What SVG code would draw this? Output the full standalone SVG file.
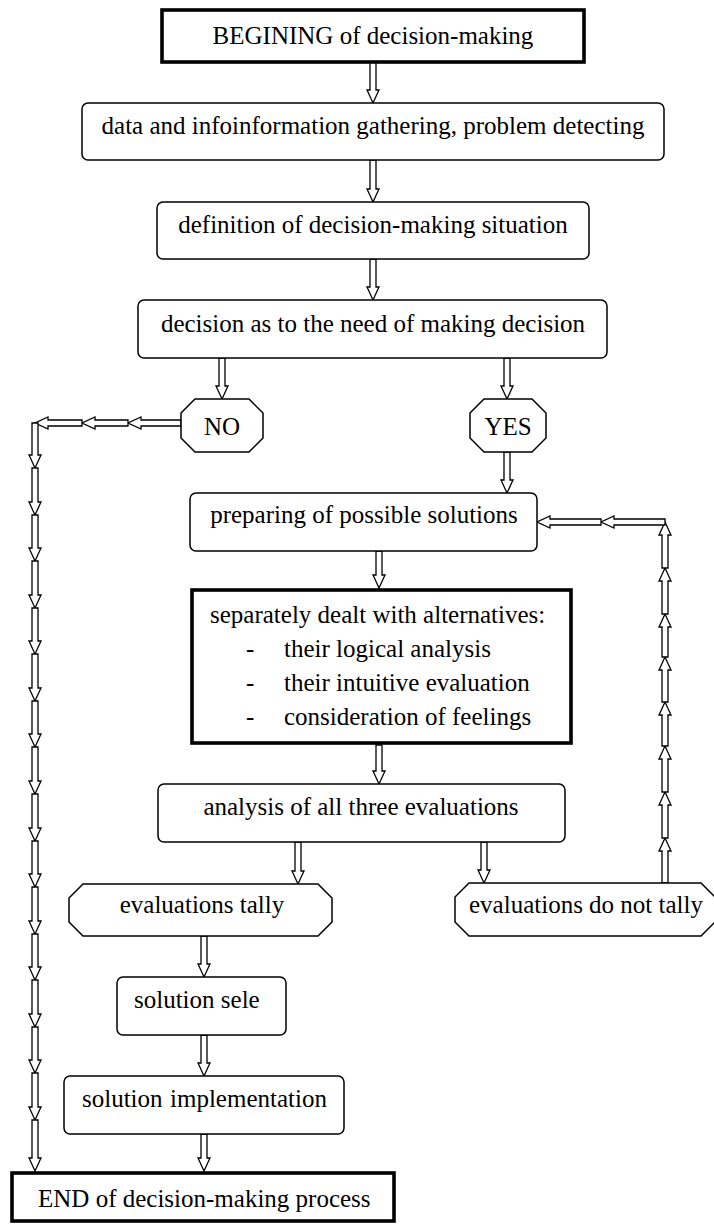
<svg xmlns="http://www.w3.org/2000/svg" width="714" height="1225" viewBox="0 0 714 1225">
<style>
text{font-family:"Liberation Serif","Times New Roman",serif;font-size:25px;fill:#000}
.c{text-anchor:middle}
.rb{fill:#fff;stroke:#000;stroke-width:1.5}
.tb{fill:#fff;stroke:#000;stroke-width:3.6}
.oc{fill:#fff;stroke:#000;stroke-width:1.5}
.arr polygon{fill:#fff;stroke:#000;stroke-width:1.3;stroke-linejoin:miter}
</style>
<rect width="714" height="1225" fill="#fff"/>
<g class="arr" id="connectors">
<polygon points="370,62 376,62 376,90 379,90 373,103 367,90 370,90"/>
<polygon points="370,160 376,160 376,189 379,189 373,202 367,189 370,189"/>
<polygon points="370,259 376,259 376,287 379,287 373,300 367,287 370,287"/>
<polygon points="219,358 225,358 225,386 228,386 222,399 216,386 219,386"/>
<polygon points="504,358 510,358 510,386 513,386 507,399 501,386 504,386"/>
<polygon points="504,452 510,452 510,480 513,480 507,493 501,480 504,480"/>
<polygon points="376,551 382,551 382,575 385,575 379,588 373,575 376,575"/>
<polygon points="376,745 382,745 382,771 385,771 379,784 373,771 376,771"/>
<polygon points="295,842 301,842 301,871 304,871 298,884 292,871 295,871"/>
<polygon points="481,842 487,842 487,870 490,870 484,883 478,870 481,870"/>
<polygon points="201,936 207,936 207,964 210,964 204,977 198,964 201,964"/>
<polygon points="201,1035 207,1035 207,1063 210,1063 204,1076 198,1063 201,1063"/>
<polygon points="201,1134 207,1134 207,1158 210,1158 204,1171 198,1158 201,1158"/>
<!-- NO path: left then down -->
<polygon points="181,420 181,426 141,426 141,429 128,423 141,417 141,420"/>
<polygon points="128,420 128,426 95,426 95,429 82,423 95,417 95,420"/>
<polygon points="82,420 82,426 48,426 48,429 35,423 48,417 48,420"/>
<polygon points="32,423 38,423 38,455 41,455 35,468 29,455 32,455"/>
<polygon points="32,468 38,468 38,502 41,502 35,515 29,502 32,502"/>
<polygon points="32,515 38,515 38,548 41,548 35,561 29,548 32,548"/>
<polygon points="32,561 38,561 38,595 41,595 35,608 29,595 32,595"/>
<polygon points="32,608 38,608 38,641 41,641 35,654 29,641 32,641"/>
<polygon points="32,654 38,654 38,688 41,688 35,701 29,688 32,688"/>
<polygon points="32,701 38,701 38,734 41,734 35,747 29,734 32,734"/>
<polygon points="32,747 38,747 38,781 41,781 35,794 29,781 32,781"/>
<polygon points="32,794 38,794 38,828 41,828 35,841 29,828 32,828"/>
<polygon points="32,841 38,841 38,874 41,874 35,887 29,874 32,874"/>
<polygon points="32,887 38,887 38,921 41,921 35,934 29,921 32,921"/>
<polygon points="32,934 38,934 38,967 41,967 35,980 29,967 32,967"/>
<polygon points="32,980 38,980 38,1014 41,1014 35,1027 29,1014 32,1014"/>
<polygon points="32,1027 38,1027 38,1060 41,1060 35,1073 29,1060 32,1060"/>
<polygon points="32,1073 38,1073 38,1107 41,1107 35,1120 29,1107 32,1107"/>
<polygon points="32,1120 38,1120 38,1158 41,1158 35,1171 29,1158 32,1158"/>
<!-- feedback path: up then left -->
<polygon points="662,883 668,883 668,851 671,851 665,838 659,851 662,851"/>
<polygon points="662,838 668,838 668,805 671,805 665,792 659,805 662,805"/>
<polygon points="662,792 668,792 668,759 671,759 665,746 659,759 662,759"/>
<polygon points="662,746 668,746 668,715 671,715 665,702 659,715 662,715"/>
<polygon points="662,702 668,702 668,670 671,670 665,657 659,670 662,670"/>
<polygon points="662,657 668,657 668,627 671,627 665,614 659,627 662,627"/>
<polygon points="662,614 668,614 668,581 671,581 665,568 659,581 662,581"/>
<polygon points="662,568 668,568 668,535 671,535 665,522 659,535 662,535"/>
<polygon points="665,519 665,525 614,525 614,528 601,522 614,516 614,519"/>
<polygon points="601,519 601,525 550,525 550,528 537,522 550,516 550,519"/>
</g>
<g id="begin"><rect class="tb" x="162" y="10" width="422" height="52"/><text class="c" x="373" y="44">BEGINING of decision-making</text></g>
<g id="gather"><rect class="rb" x="82" y="103" width="582" height="57" rx="6"/><text class="c" x="373" y="134">data and infoinformation gathering, problem detecting</text></g>
<g id="define"><rect class="rb" x="157" y="202" width="432" height="57" rx="6"/><text class="c" x="373" y="233">definition of decision-making situation</text></g>
<g id="need"><rect class="rb" x="138" y="300" width="469" height="58" rx="6"/><text class="c" x="373" y="332">decision as to the need of making decision</text></g>
<g id="no"><polygon class="oc" points="195,399 249,399 263,413 263,438 249,452 195,452 181,438 181,413"/><text class="c" x="222" y="435">NO</text></g>
<g id="yes"><polygon class="oc" points="484,399 532,399 546,413 546,438 532,452 484,452 470,438 470,413"/><text class="c" x="508" y="435">YES</text></g>
<g id="prepare"><rect class="rb" x="190" y="493" width="347" height="58" rx="6"/><text class="c" x="364" y="523">preparing of possible solutions</text></g>
<g id="separately"><rect class="tb" x="192" y="590" width="379" height="153"/>
<text x="210" y="623">separately dealt with alternatives:</text>
<text x="246" y="657">-</text><text x="284" y="657">their logical analysis</text>
<text x="246" y="691">-</text><text x="284" y="691">their intuitive evaluation</text>
<text x="246" y="725">-</text><text x="284" y="725">consideration of feelings</text></g>
<g id="analysis"><rect class="rb" x="158" y="784" width="407" height="58" rx="6"/><text class="c" x="361" y="815">analysis of all three evaluations</text></g>
<g id="tally"><polygon class="oc" points="83,884 318,884 332,898 332,922 318,936 83,936 69,922 69,898"/><text class="c" x="202" y="913">evaluations tally</text></g>
<g id="nottally"><polygon class="oc" points="469,883 701,883 715,897 715,922 701,936 469,936 455,922 455,897"/><text class="c" x="586" y="913">evaluations do not tally</text></g>
<g id="select"><rect class="rb" x="117" y="977" width="169" height="58" rx="6"/><text x="134" y="1008">solution sele</text></g>
<g id="implement"><rect class="rb" x="64" y="1076" width="280" height="58" rx="6"/><text y="1107"><tspan x="82">solution</tspan><tspan x="170">implementation</tspan></text></g>
<g id="end"><rect class="tb" x="12" y="1173" width="382" height="48"/><text x="38" y="1207">END of decision-making process</text></g>
</svg>
